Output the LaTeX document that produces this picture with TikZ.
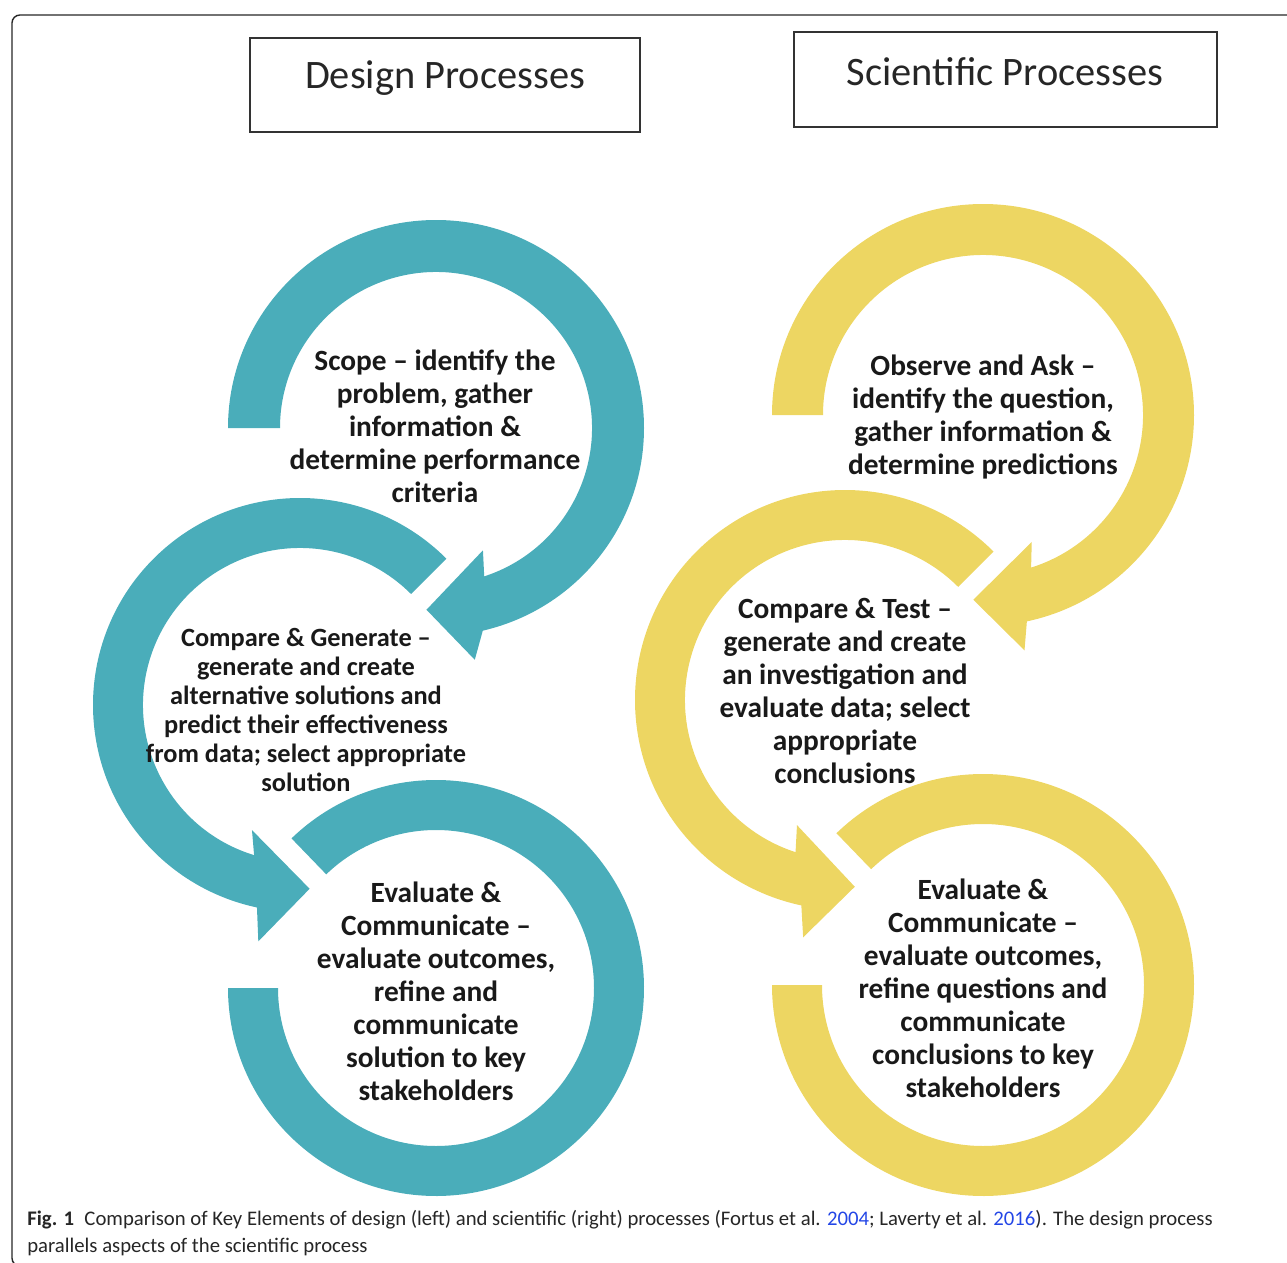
\documentclass[tikz,border=0pt]{standalone}
\usepackage{fontspec}
\setmainfont{Carlito}
\definecolor{designteal}{RGB}{74,173,186}
\definecolor{sciyellow}{RGB}{237,214,98}
\definecolor{linkblue}{RGB}{35,70,230}

\begin{document}
\begin{tikzpicture}[x=0.2mm, y=0.2mm,
    stage/.style={align=center, text=black!90, font=\bfseries\fontsize{16.7}{18.8}\selectfont},
    heading/.style={text=black!85, font=\fontsize{23}{26}\selectfont},
    headbox/.style={draw=black!80, line width=1.3pt},
    caption/.style={anchor=base west, inner sep=0pt, text=black!85, font=\fontsize{11.8}{14}\selectfont}]
    \useasboundingbox (0,0) rectangle (1287,-1263);
    \clip (0,0) rectangle (1287,-1263);
    % frame
    \draw[black!85, line width=0.8pt, rounded corners=4.5pt] (12,-15) rectangle (1320,-1266);

    % headings
    \draw[headbox] (250,-38) rectangle (640,-132);
    \draw[headbox] (794,-32) rectangle (1217,-127);
    \node[heading] (design) at (445,-78) {Design Processes};
    \node[heading] (science) at (1005,-72) {Scientific Processes};

    % design cycle
    \fill[designteal, shift={(436,-428)}]
        (180:208) arc[start angle=180, end angle=-77, radius=208]
        -- (-80.5:235) -- (-93:182) -- (-69:131) -- (-72:156)
        arc[start angle=-72, end angle=180, radius=156] -- cycle;
    \fill[designteal, shift={(300,-705)}]
        (45:207) arc[start angle=45, end angle=258, radius=207]
        -- (260:240) -- (273:184) -- (249:134) -- (253:157)
        arc[start angle=253, end angle=45, radius=157] -- cycle;
    \fill[designteal, shift={(436,-988)}]
        (134:208) arc[start angle=134, end angle=-180, radius=208]
        -- (180:158) arc[start angle=-180, end angle=134, radius=158] -- cycle;

    % scientific cycle
    \fill[sciyellow, shift={(983,-415)}]
        (180:211) arc[start angle=180, end angle=-78, radius=211]
        -- (-80:239) -- (-93:185) -- (-69:136) -- (-72.5:160)
        arc[start angle=-72.5, end angle=180, radius=160] -- cycle;
    \fill[sciyellow, shift={(845,-700)}]
        (45:210) arc[start angle=45, end angle=258, radius=210]
        -- (260:241) -- (273:187) -- (249:134) -- (252:160)
        arc[start angle=252, end angle=45, radius=160] -- cycle;
    \fill[sciyellow, shift={(983,-985)}]
        (134:211) arc[start angle=134, end angle=-180, radius=211]
        -- (180:161) arc[start angle=-180, end angle=134, radius=161] -- cycle;

    % stage texts
    \node[stage] (scope) at (435,-426) {Scope -- identify the\\problem, gather\\information \&\\determine performance\\criteria};
    \node[stage, font=\bfseries\fontsize{15}{16.4}\selectfont] (generate) at (306,-710) {Compare \& Generate --\\generate and create\\alternative solutions and\\predict their effectiveness\\from data; select appropriate\\solution};
    \node[stage] (evaldesign) at (436,-991) {Evaluate \&\\Communicate --\\evaluate outcomes,\\refine and\\communicate\\solution to key\\stakeholders};
    \node[stage] (observe) at (983,-417) {Observe and Ask --\\identify the question,\\gather information \&\\determine predictions};
    \node[stage] (test) at (845,-691) {Compare \& Test --\\generate and create\\an investigation and\\evaluate data; select\\appropriate\\conclusions};
    \node[stage] (evalscience) at (983,-988) {Evaluate \&\\Communicate --\\evaluate outcomes,\\refine questions and\\communicate\\conclusions to key\\stakeholders};

    % caption
    \node[caption] (cap1) at (27,-1225) {\textbf{Fig. 1}\enspace Comparison of Key Elements of design (left) and scientific (right) processes (Fortus et al. \textcolor{linkblue}{2004}; Laverty et al. \textcolor{linkblue}{2016}). The design process};
    \node[caption] (cap2) at (27,-1252) {parallels aspects of the scientific process};
\end{tikzpicture}
\end{document}
